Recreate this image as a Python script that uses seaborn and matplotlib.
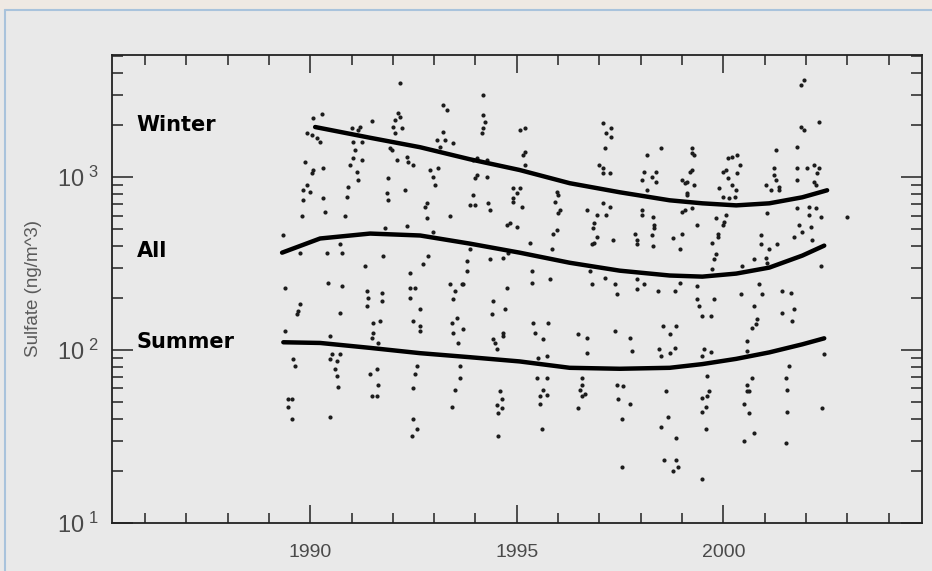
import numpy as np
import pandas as pd
import matplotlib
matplotlib.use("Agg")
import matplotlib.pyplot as plt
import matplotlib.ticker as mticker
from matplotlib.patches import Rectangle
import seaborn as sns

# ---------------- data ----------------
obs_year = [
    1992.17, 1993.21, 1993.31, 1992.13, 1992.17, 1992.05, 1991.50, 1990.07, 1990.29, 1989.93,
    1990.05, 1990.17, 1990.24, 1991.21, 1991.16, 1991.01, 1992.00, 1992.22, 1992.05, 1993.21,
    1993.07, 1993.26, 1993.14, 1991.04, 1991.26, 1991.93, 1991.98, 1992.34, 1992.37, 1992.49,
    1993.45, 1991.09, 1991.04, 1991.26, 1990.97, 1991.14, 1991.16, 1989.88, 1990.07, 1990.31,
    1990.05, 1992.10, 1992.90, 1992.97, 1993.02, 1993.09, 1991.88, 1989.93, 1989.83, 1990.00,
    1989.83, 1990.92, 1990.89, 1990.85, 1990.31, 1990.36, 1991.86, 1991.88, 1992.29, 1992.83,
    1992.78, 1992.83, 1989.81, 1993.38, 1991.81, 1992.34, 1989.35, 1992.97, 1989.76, 1990.41,
    1990.77, 1990.72, 1991.76, 1991.33, 1992.85, 1992.73, 1992.42, 1993.79, 1993.79, 1993.86,
    1990.43, 1990.77, 1989.40, 1993.38, 1993.70,
    1989.76, 1989.71, 1989.69, 1990.72, 1991.38, 1991.40, 1991.38, 1991.74, 1991.74, 1992.42,
    1992.54, 1992.42, 1992.66, 1992.49, 1992.66, 1992.66, 1991.52, 1991.69, 1991.52, 1991.50,
    1991.64, 1989.40, 1990.48, 1993.50, 1993.67, 1993.45, 1993.43, 1993.55, 1993.70, 1993.45,
    1993.57, 1989.59, 1989.64, 1990.53, 1990.48, 1990.65, 1990.72, 1990.60, 1990.65, 1990.68,
    1991.45, 1991.62, 1991.64, 1991.50, 1991.62, 1992.58, 1992.54, 1992.49, 1993.62, 1993.62,
    1993.50, 1993.43, 1989.47, 1989.57, 1989.47, 1989.57, 1990.48, 1992.49, 1992.58, 1992.46,
    1994.18, 1994.18, 1994.23, 1994.18, 1994.15, 1995.07, 1995.19, 1997.08, 1997.29, 1997.17,
    1997.29, 1997.13, 1998.50, 1995.19, 1995.14, 1995.19, 1998.14, 1997.00, 1997.08, 1997.08,
    1997.25, 1998.38, 1998.09, 1998.26, 1998.04, 1998.38, 1994.03, 1993.94, 1994.28, 1994.03,
    1993.99, 1994.28, 1994.90, 1995.00, 1994.90, 1994.90, 1995.07, 1993.94, 1993.86, 1993.99,
    1994.30, 1994.35, 1995.97, 1995.99, 1995.92, 1996.04, 1995.99, 1995.12, 1997.08, 1997.25,
    1996.93, 1997.17, 1996.71, 1998.14, 1998.04, 1998.02, 1998.29, 1998.33, 1998.33, 1996.88,
    1996.84, 1996.93, 1996.88, 1996.81, 1994.76, 1994.83, 1995.00, 1995.97, 1995.87, 1997.32,
    1997.85, 1997.90, 1997.92, 1998.26, 1998.29, 1995.31, 1995.85, 1994.78, 1994.66, 1994.35,
    1995.36, 1995.80, 1995.36, 1994.76, 1996.76, 1997.13, 1997.90, 1998.09, 1997.37,
    1994.42, 1994.40, 1994.71, 1995.39, 1995.75, 1995.43, 1995.63, 1994.66, 1994.66, 1994.42,
    1994.47, 1994.52, 1996.81, 1997.42, 1997.90, 1998.41, 1996.47, 1996.69, 1996.71, 1997.37,
    1997.73, 1997.78, 1998.53, 1998.45, 1998.50, 1998.70, 1995.51, 1995.72, 1995.48, 1995.72,
    1995.63, 1995.72, 1995.56, 1995.56, 1996.57, 1996.59, 1996.52, 1996.64, 1996.57, 1996.47,
    1997.42, 1997.56, 1997.44, 1997.73, 1994.59, 1994.64, 1994.52, 1994.64, 1994.54, 1997.54,
    1995.60, 1994.54, 1997.54, 1998.62, 1998.65, 1998.50, 1998.57,
    2001.96, 2001.88, 2002.32, 2001.88, 2001.96, 2001.79, 2001.28, 1999.23, 1999.25, 1999.30,
    2000.10, 2000.22, 2000.34, 2000.39, 2000.34, 1999.23, 1999.18, 1999.98, 2000.07, 2000.10,
    2000.22, 2000.31, 2000.27, 2000.14, 1999.98, 1999.90, 1998.99, 1999.11, 1999.06, 1999.30,
    1999.13, 1999.11, 2001.23, 2001.23, 2001.28, 2001.04, 2001.35, 2001.16, 2001.35, 2001.79,
    2002.03, 2002.20, 2002.32, 2002.27, 2001.79, 2002.20, 2002.25, 1999.06, 1999.01, 1999.23,
    2001.06, 2001.79, 2002.08, 2002.25, 1999.83, 2000.07, 2000.02, 1999.98, 2002.08, 2002.37,
    2003.00, 1999.35, 2001.84, 2002.13, 2001.91, 2001.71, 1999.01, 1998.77, 1999.86, 1999.86,
    1999.73, 2000.92, 2000.92, 2001.11, 2001.30, 2001.04, 2001.06, 2002.15, 1998.94, 1999.83,
    1999.78, 1999.73, 2000.75, 2000.46, 2002.37, 2000.87,
    1998.94, 1999.37, 1998.82, 2000.43, 2000.94, 2001.43, 2001.64, 2001.71, 2001.43, 2001.67,
    1999.37, 1999.42, 1999.47, 1999.71, 1999.78, 2000.75, 2000.82, 2000.80, 2000.68, 1998.86,
    1998.70, 1998.82, 2000.56, 2000.58, 1999.54, 1999.71, 1999.47, 2002.44, 2001.59, 1999.61,
    2000.70, 2000.58, 2000.63, 2000.56, 2001.52, 2001.55, 1999.66, 1999.61, 1999.47, 1999.59,
    1999.49, 2000.51, 2000.63, 2001.55, 2002.39, 1999.59, 1998.86, 2000.75, 2000.51, 2001.52,
    1998.86, 1998.89, 1998.77, 1999.49,
]
obs_sulfate = [
    3500, 2620, 2450, 2360, 2230, 2150, 2120, 2200, 2320, 1800,
    1750, 1690, 1600, 1950, 1880, 1930, 1950, 1930, 1800, 1830,
    1640, 1640, 1490, 1600, 1600, 1470, 1440, 1310, 1220, 1170,
    1580, 1440, 1290, 1260, 1170, 1070, 960, 1220, 1100, 1130,
    1055, 1255, 1100, 1000, 900, 1130, 990, 900, 840, 820,
    735, 875, 765, 600, 755, 626, 807, 735, 840, 706,
    669, 578, 600, 600, 505, 519, 460, 480, 366, 366,
    366, 413, 352, 308, 352, 316, 280, 288, 329, 386,
    245, 236, 229, 242, 242,
    185, 169, 162, 164, 220, 200, 180, 214, 193, 229,
    229, 200, 173, 147, 138, 129, 144, 147, 126, 117,
    110, 129, 121, 220, 242, 198, 144, 153, 132, 126,
    110, 89, 81, 95, 89, 86, 95, 78, 71, 61,
    73, 78, 63, 54, 54, 81, 73, 60, 81, 69,
    59, 47, 52, 52, 47, 40, 41, 40, 35, 32,
    3000, 2290, 2090, 1930, 1800, 1875, 1930, 2060, 1930, 1800,
    1710, 1470, 1470, 1400, 1340, 1170, 1340, 1170, 1130, 1055,
    1055, 1070, 1070, 1000, 960, 935, 1290, 1255, 1255, 1030,
    990, 1000, 865, 807, 755, 716, 865, 786, 687, 687,
    706, 643, 818, 786, 716, 643, 618, 669, 706, 669,
    601, 601, 643, 840, 643, 601, 585, 526, 505, 541,
    505, 448, 419, 413, 526, 541, 512, 492, 472, 431,
    472, 431, 413, 460, 402, 419, 386, 366, 343, 338,
    288, 259, 245, 229, 288, 262, 259, 242, 242,
    193, 162, 173, 144, 144, 126, 116, 126, 121, 116,
    110, 101, 242, 212, 226, 220, 124, 117, 96, 129,
    117, 99, 138, 101, 92, 96, 90, 92, 69, 69,
    59, 55, 54, 49, 69, 63, 59, 56, 54, 46,
    63, 62, 52, 49, 58, 52, 48, 46, 43, 40,
    35, 32, 21, 58, 41, 36, 23,
    3660, 3430, 2090, 1950, 1875, 1490, 1440, 1470, 1380, 1340,
    1290, 1305, 1340, 1170, 1055, 1100, 1070, 1070, 1100, 990,
    900, 840, 765, 755, 765, 865, 960, 935, 923, 900,
    807, 786, 1130, 1030, 960, 900, 875, 840, 840, 1130,
    1130, 1170, 1130, 1055, 960, 935, 900, 643, 626, 660,
    618, 660, 669, 660, 578, 601, 548, 526, 601, 585,
    585, 526, 526, 512, 479, 448, 472, 442, 472, 448,
    419, 460, 413, 386, 413, 343, 320, 431, 386, 361,
    338, 296, 338, 308, 308, 242,
    245, 236, 220, 212, 212, 220, 214, 173, 164, 147,
    198, 180, 158, 158, 198, 180, 151, 142, 134, 138,
    124, 103, 113, 99, 101, 97, 92, 95, 81, 71,
    69, 63, 58, 58, 69, 59, 58, 54, 53, 47,
    44, 49, 43, 44, 46, 35, 31, 33, 30, 29,
    23, 21, 20, 18,
]

winter_year = [1990.12, 1991.45, 1992.66, 1993.86, 1995.07, 1996.28, 1997.49,
               1998.70, 1999.49, 2000.31, 2001.11, 2001.91, 2002.51]
winter_val = [1950, 1690, 1490, 1270, 1100, 923, 818, 735, 706, 687, 706, 765, 840]

all_year = [1989.32, 1990.24, 1991.45, 1992.66, 1993.86, 1995.07, 1996.28,
            1997.49, 1998.70, 1999.49, 2000.31, 2001.11, 2001.91, 2002.44]
all_val = [366, 442, 472, 460, 413, 366, 320, 288, 270, 266, 277, 300, 352, 402]

summer_year = [1989.35, 1990.24, 1991.45, 1992.66, 1993.86, 1995.07, 1996.28,
               1997.49, 1998.70, 1999.49, 2000.31, 2001.11, 2001.91, 2002.44]
summer_val = [111, 110, 103, 96, 91, 86, 79, 78, 79, 83, 89, 97, 108, 117]

series_labels = ["Winter", "All", "Summer"]
label_year = 1985.8
label_val = [2000, 375, 112]

x_major = [1990, 1995, 2000]
x_minor = list(range(1986, 2005))
y_major = [10, 100, 1000]
y_major_exp = ["1", "2", "3"]

assert len(obs_year) == len(obs_sulfate)

# ---------------- figure ----------------
sns.set_theme(style="ticks")
plt.rcParams["font.family"] = ["Liberation Sans", "DejaVu Sans"]

bg = "#e9e9e9"
fig = plt.figure(figsize=(9.32, 5.71), dpi=100, facecolor=bg)
fig.patches.append(Rectangle((0, 0.982), 1, 0.018, transform=fig.transFigure,
                             facecolor="#efe9e3", edgecolor="none", zorder=0))
fig.add_artist(plt.Line2D([0.0055, 0.0055], [0, 0.982], transform=fig.transFigure,
                          color="#a9c3dc", lw=1.5))
fig.add_artist(plt.Line2D([0.0055, 1], [0.982, 0.982], transform=fig.transFigure,
                          color="#a9c3dc", lw=1.5))

ax = fig.add_axes([0.120, 0.084, 0.869, 0.820])
ax.set_facecolor(bg)

obs = pd.DataFrame({"year": obs_year, "sulfate": obs_sulfate})
sns.scatterplot(data=obs, x="year", y="sulfate", ax=ax, s=9, color="#1c1c1c",
                linewidth=0, legend=False, zorder=2)

curves = pd.concat([
    pd.DataFrame({"year": winter_year, "sulfate": winter_val, "season": "Winter"}),
    pd.DataFrame({"year": all_year, "sulfate": all_val, "season": "All"}),
    pd.DataFrame({"year": summer_year, "sulfate": summer_val, "season": "Summer"}),
])
sns.lineplot(data=curves, x="year", y="sulfate", hue="season",
             palette={"Winter": "black", "All": "black", "Summer": "black"},
             estimator=None, sort=False, lw=3.2, legend=False, ax=ax, zorder=3)

ax.set_yscale("log")
ax.set_xlim(1985.2, 2004.8)
ax.set_ylim(10, 5100)

for lab, v in zip(series_labels, label_val):
    ax.text(label_year, v, lab, fontsize=15, fontweight="bold", color="black",
            family="DejaVu Sans", va="center", ha="left", zorder=4)

ax.xaxis.set_major_locator(mticker.FixedLocator(x_major))
ax.xaxis.set_minor_locator(mticker.FixedLocator(x_minor))
ax.xaxis.set_major_formatter(mticker.FixedFormatter([str(v) for v in x_major]))
ax.yaxis.set_major_locator(mticker.FixedLocator(y_major))
ax.yaxis.set_minor_locator(mticker.LogLocator(base=10, subs=np.arange(2, 10)))
ax.yaxis.set_major_formatter(mticker.FixedFormatter(
    [r"$\mathregular{10^{\ %s}}$" % e for e in y_major_exp]))
ax.yaxis.set_minor_formatter(mticker.NullFormatter())

ax.tick_params(axis="both", which="both", direction="in", top=True, right=True,
               color="#222222", width=1.1)
ax.tick_params(axis="x", which="major", length=13, labelsize=14, pad=15,
               labelcolor="#4a4a4a")
ax.tick_params(axis="x", which="minor", length=7)
ax.tick_params(axis="y", which="major", length=15, labelsize=17, pad=9,
               labelcolor="#4a4a4a")
ax.tick_params(axis="y", which="minor", length=8)

for sp in ax.spines.values():
    sp.set_color("#222222")
    sp.set_linewidth(1.3)

ax.set_xlabel("")
ax.set_ylabel("Sulfate (ng/m^3)", fontsize=13.5, color="#5a5a5a")
ax.yaxis.set_label_coords(-0.086, 0.5)

fig.savefig("out.png", dpi=100, facecolor=bg)
